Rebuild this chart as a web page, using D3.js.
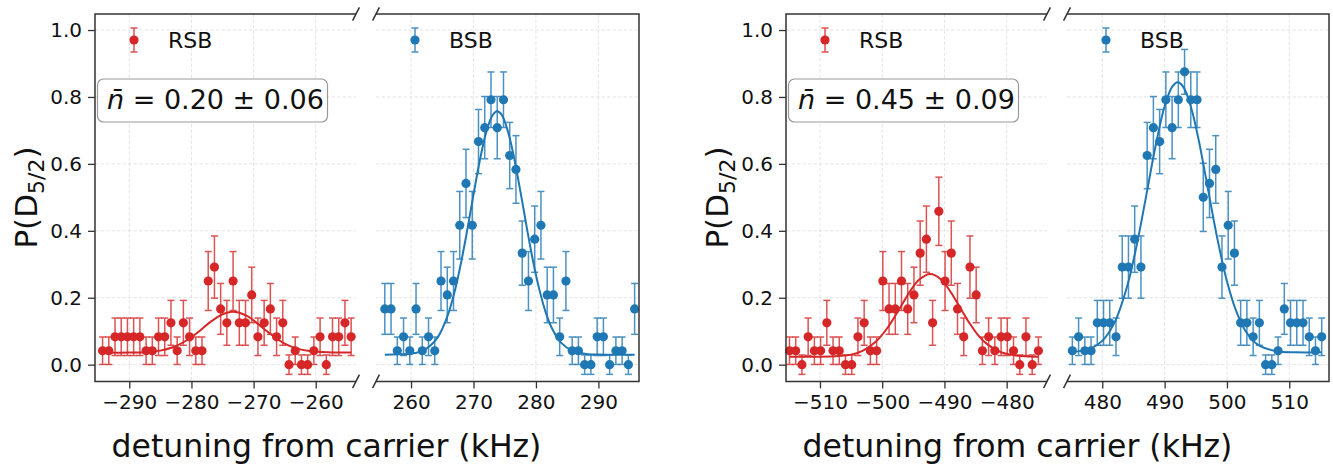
<!DOCTYPE html>
<html>
<head>
<meta charset="utf-8">
<script src="https://cdn.jsdelivr.net/npm/d3@7"></script>
<style>
  body { margin: 0; background: #fff; }
  svg { display: block; font-family: "DejaVu Sans", sans-serif; }
</style>
</head>
<body>
<svg id="chart" width="1333" height="466"></svg>
<script>
// bright shots out of SHOTS per detuning point
const SHOTS = 24;
const yTicks = [0, 0.2, 0.4, 0.6, 0.8, 1.0];

// half-width of the error bar for a given count
const errByCount = [0.029, 0.041, 0.056, 0.067, 0.076, 0.083, 0.088, 0.093, 0.096, 0.099, 0.101,
  0.102, 0.102, 0.102, 0.101, 0.099, 0.096, 0.093, 0.088, 0.083, 0.076, 0.067];

// ---- left figure: n = 0.20
const leftRsbX = [-294.3, -293.3, -292.3, -291.3, -290.3, -289.3, -288.3, -287.3, -286.3, -285.3,
  -284.3, -283.3, -282.3, -281.3, -280.3, -279.3, -278.3, -277.3, -276.3, -275.3, -274.3, -273.3,
  -272.3, -271.3, -270.3, -269.3, -268.3, -267.3, -266.3, -265.3, -264.3, -263.3, -262.3, -261.3,
  -260.3, -259.3, -258.3, -257.3, -256.3, -255.3, -254.3];
const leftRsbCounts = [1, 1, 2, 2, 2, 2, 2, 1, 1, 2, 2, 3, 1, 3, 2, 1, 1, 6, 7, 4, 3, 6, 3, 3, 5, 2,
  3, 4, 2, 3, 0, 1, 0, 0, 1, 2, 0, 2, 2, 3, 2];
const leftRsbFitX = [-294.3, -290, -287, -285, -283, -281, -279, -277, -275.5, -274.3, -273.3,
  -272.3, -271, -269.5, -268, -266.5, -265, -263, -261, -258, -254.3];
const leftRsbFitY = [0.036, 0.036, 0.038, 0.042, 0.052, 0.070, 0.096, 0.127, 0.146, 0.155, 0.158,
  0.155, 0.145, 0.125, 0.102, 0.081, 0.063, 0.048, 0.041, 0.037, 0.036];

const leftBsbX = [255.8, 256.8, 257.8, 258.8, 259.8, 260.8, 261.8, 262.8, 263.8, 264.8, 265.8, 266.8,
  267.8, 268.8, 269.8, 270.8, 271.8, 272.8, 273.8, 274.8, 275.8, 276.8, 277.8, 278.8, 279.8, 280.8,
  281.8, 282.8, 283.8, 284.8, 285.8, 286.8, 287.8, 288.8, 289.8, 290.8, 291.8, 292.8, 293.8, 294.8,
  295.8];
const leftBsbCounts = [4, 4, 1, 2, 1, 4, 1, 2, 1, 6, 5, 6, 10, 13, 10, 16, 17, 19, 17, 19, 15, 14, 8,
  6, 9, 10, 5, 5, 2, 6, 1, 1, 0, 0, 2, 2, 0, 1, 1, 0, 4];
const leftBsbFitX = [255.8, 258, 260, 262, 264, 265, 266, 267, 268, 269, 270, 271, 272, 273, 273.8,
  274.5, 275.5, 276.5, 277.5, 278.5, 279.5, 280.5, 281.5, 282.5, 284, 286, 288, 291, 295.8];
const leftBsbFitY = [0.030, 0.031, 0.033, 0.043, 0.075, 0.107, 0.154, 0.220, 0.304, 0.402, 0.508,
  0.609, 0.692, 0.744, 0.757, 0.747, 0.698, 0.618, 0.519, 0.413, 0.313, 0.228, 0.160, 0.111, 0.066,
  0.040, 0.032, 0.030, 0.030];

// ---- right figure: n = 0.45
const rightRsbX = [-514.9, -513.9, -512.9, -511.9, -510.9, -509.9, -508.9, -507.9, -506.9, -505.9,
  -504.9, -503.9, -502.9, -501.9, -500.9, -499.9, -498.9, -497.9, -496.9, -495.9, -494.9, -493.9,
  -492.9, -491.9, -490.9, -489.9, -488.9, -487.9, -486.9, -485.9, -484.9, -483.9, -482.9, -481.9,
  -480.9, -479.9, -478.9, -477.9, -476.9, -475.9, -474.9];
const rightRsbCounts = [1, 1, 0, 2, 1, 1, 3, 1, 1, 0, 0, 2, 3, 1, 1, 6, 4, 4, 6, 4, 5, 8, 9, 3, 11, 6,
  8, 4, 2, 7, 5, 1, 2, 1, 2, 2, 1, 0, 2, 0, 1];
const rightRsbFitX = [-514.9, -510, -507, -505, -503, -501, -499, -497, -495.5, -494, -492.3, -490.5,
  -489, -487.5, -486, -484.5, -483, -481, -479, -477, -474.9];
const rightRsbFitY = [0.024, 0.024, 0.026, 0.030, 0.043, 0.069, 0.114, 0.174, 0.220, 0.255, 0.271,
  0.254, 0.217, 0.171, 0.125, 0.086, 0.059, 0.038, 0.029, 0.025, 0.024];

const rightBsbX = [475.2, 476.2, 477.2, 478.2, 479.2, 480.2, 481.2, 482.2, 483.2, 484.2, 485.2, 486.2,
  487.2, 488.2, 489.2, 490.2, 491.2, 492.2, 493.2, 494.2, 495.2, 496.2, 497.2, 498.2, 499.2, 500.2,
  501.2, 502.2, 503.2, 504.2, 505.2, 506.2, 507.2, 508.2, 509.2, 510.2, 511.2, 512.2, 513.2, 514.2,
  515.2];
const rightBsbCounts = [1, 2, 1, 1, 3, 3, 3, 2, 7, 7, 9, 7, 15, 17, 16, 19, 17, 19, 21, 19, 19, 12, 13,
  14, 7, 10, 8, 3, 3, 2, 3, 0, 0, 1, 4, 3, 3, 3, 2, 1, 2];
const rightBsbFitX = [475.2, 478, 480, 482, 484, 485.5, 487, 488.5, 490, 491.2, 492.1, 493, 494.3,
  495.5, 497, 498.5, 500, 501.5, 503, 505, 508, 511, 515.2];
const rightBsbFitY = [0.038, 0.047, 0.071, 0.127, 0.235, 0.355, 0.500, 0.649, 0.772, 0.830, 0.844,
  0.830, 0.765, 0.668, 0.520, 0.373, 0.249, 0.159, 0.100, 0.059, 0.040, 0.037, 0.037];

const RED = '#d62728';
const BLUE = '#1f77b4';

const figures = [
  {
    shift: 0, label: '0.20 \u00b1 0.06',
    panels: [
      { side: 'left', x0: 95, x1: 356, domain: [-295.52, -253.52], ticks: [-290, -280, -270, -260],
        name: 'RSB', color: RED, xs: leftRsbX, counts: leftRsbCounts, fitX: leftRsbFitX, fitY: leftRsbFitY },
      { side: 'right', x0: 376, x1: 639, domain: [254.39, 296.5], ticks: [260, 270, 280, 290],
        name: 'BSB', color: BLUE, xs: leftBsbX, counts: leftBsbCounts, fitX: leftBsbFitX, fitY: leftBsbFitY }
    ]
  },
  {
    shift: 691, label: '0.45 \u00b1 0.09',
    panels: [
      { side: 'left', x0: 786, x1: 1047, domain: [-515.46, -473.52], ticks: [-510, -500, -490, -480],
        name: 'RSB', color: RED, xs: rightRsbX, counts: rightRsbCounts, fitX: rightRsbFitX, fitY: rightRsbFitY },
      { side: 'right', x0: 1067, x1: 1329, domain: [474.34, 516.37], ticks: [480, 490, 500, 510],
        name: 'BSB', color: BLUE, xs: rightBsbX, counts: rightBsbCounts, fitX: rightBsbFitX, fitY: rightBsbFitY }
    ]
  }
];

const TOP = 14, BOTTOM = 381.4;
const svg = d3.select('#chart');
const y = d3.scaleLinear().domain([-0.05, 1.05]).range([BOTTOM, 13.3]);

const drawErrorbar = (g, cx, cy, lo, hi, color) => {
  const e = g.append('g').attr('stroke', color).attr('stroke-width', 1.5).attr('opacity', 0.8);
  e.append('line').attr('x1', cx).attr('x2', cx).attr('y1', lo).attr('y2', hi);
  e.append('line').attr('x1', cx - 3.5).attr('x2', cx + 3.5).attr('y1', lo).attr('y2', lo);
  e.append('line').attr('x1', cx - 3.5).attr('x2', cx + 3.5).attr('y1', hi).attr('y2', hi);
};

function drawPanel(p, withBox, boxLabel) {
  const x = d3.scaleLinear().domain(p.domain).range([p.x0, p.x1]);
  const g = svg.append('g');

  // dashed grid
  const grid = g.append('g').attr('stroke', '#dedede').attr('stroke-width', 0.8)
    .attr('stroke-dasharray', '3.5,2');
  grid.selectAll('line.v').data(p.ticks).join('line').attr('class', 'v')
    .attr('x1', (d) => x(d)).attr('x2', (d) => x(d)).attr('y1', TOP).attr('y2', BOTTOM);
  grid.selectAll('line.h').data(yTicks).join('line').attr('class', 'h')
    .attr('x1', p.x0).attr('x2', p.x1).attr('y1', (d) => y(d)).attr('y2', (d) => y(d));

  // fit curve
  const fit = p.fitX.map((d, i) => [d, p.fitY[i]]);
  g.append('path').datum(fit)
    .attr('fill', 'none').attr('stroke', p.color).attr('stroke-width', 2)
    .attr('d', d3.line().x((d) => x(d[0])).y((d) => y(d[1])).curve(d3.curveCatmullRom));

  // data with error bars
  const pts = p.xs.map((d, i) => ({ x: d, p: p.counts[i] / SHOTS, e: errByCount[p.counts[i]] }));
  pts.forEach((d) => drawErrorbar(g, x(d.x), y(d.p), y(d.p - d.e), y(d.p + d.e), p.color));
  g.selectAll('circle.pt').data(pts).join('circle').attr('class', 'pt')
    .attr('cx', (d) => x(d.x)).attr('cy', (d) => y(d.p)).attr('r', 4.6).attr('fill', p.color);

  // spines (open on the broken side)
  const sp = p.side === 'left'
    ? `M${p.x1},${TOP}H${p.x0}V${BOTTOM}H${p.x1}`
    : `M${p.x0},${TOP}H${p.x1}V${BOTTOM}H${p.x0}`;
  g.append('path').attr('d', sp).attr('fill', 'none').attr('stroke', '#333').attr('stroke-width', 1.5);

  // break marks
  const bx = p.side === 'left' ? p.x1 : p.x0;
  [TOP, BOTTOM].forEach((by) => {
    g.append('line').attr('x1', bx - 3.4).attr('y1', by + 6.7).attr('x2', bx + 3.4).attr('y2', by - 6.7)
      .attr('stroke', '#333').attr('stroke-width', 1.5);
  });

  // x axis
  const xa = g.append('g').attr('transform', `translate(0,${BOTTOM})`)
    .call(d3.axisBottom(x).tickValues(p.ticks).tickSize(7).tickPadding(6));
  xa.select('.domain').remove();
  xa.selectAll('line').attr('stroke', '#333').attr('stroke-width', 1.3);
  xa.selectAll('text').attr('font-size', 20).attr('font-family', 'DejaVu Sans').attr('fill', '#111');

  if (p.side === 'left') {
    const ya = g.append('g').attr('transform', `translate(${p.x0},0)`)
      .call(d3.axisLeft(y).tickValues(yTicks).tickFormat(d3.format('.1f')).tickSize(7).tickPadding(6));
    ya.select('.domain').remove();
    ya.selectAll('line').attr('stroke', '#333').attr('stroke-width', 1.3);
    ya.selectAll('text').attr('font-size', 20).attr('font-family', 'DejaVu Sans').attr('fill', '#111');
  }

  // legend
  const lx = p.x0 + 39, ly = 40;
  drawErrorbar(g, lx, ly, ly + 12, ly - 12, p.color);
  g.append('circle').attr('cx', lx).attr('cy', ly).attr('r', 4.6).attr('fill', p.color);
  g.append('text').attr('x', p.x0 + 73).attr('y', 48).attr('font-size', 22).attr('fill', '#111').text(p.name);

  if (withBox) {
    g.append('rect').attr('x', p.x0 + 2.5).attr('y', 79).attr('width', 230).attr('height', 43)
      .attr('rx', 6).attr('fill', '#fff').attr('fill-opacity', 0.85)
      .attr('stroke', '#999').attr('stroke-width', 1.2);
    const t = g.append('text').attr('x', p.x0 + 12).attr('y', 108.5).attr('font-size', 27).attr('fill', '#111');
    t.append('tspan').attr('font-style', 'italic').text('n\u0304');
    t.append('tspan').text(' = ' + boxLabel);
  }
}

figures.forEach((f) => {
  f.panels.forEach((p, i) => drawPanel(p, i === 0, f.label));

  const yl = svg.append('text')
    .attr('transform', `translate(${37 + f.shift},197.5) rotate(-90)`)
    .attr('text-anchor', 'middle').attr('font-size', 31).attr('fill', '#111');
  yl.append('tspan').text('P(D');
  yl.append('tspan').attr('font-size', 22).attr('dy', 7).text('5/2');
  yl.append('tspan').attr('dy', -7).text(')');

  svg.append('text').attr('x', 326.5 + f.shift).attr('y', 457)
    .attr('text-anchor', 'middle').attr('font-size', 31.5).attr('fill', '#111')
    .text('detuning from carrier (kHz)');
});
</script>
</body>
</html>
